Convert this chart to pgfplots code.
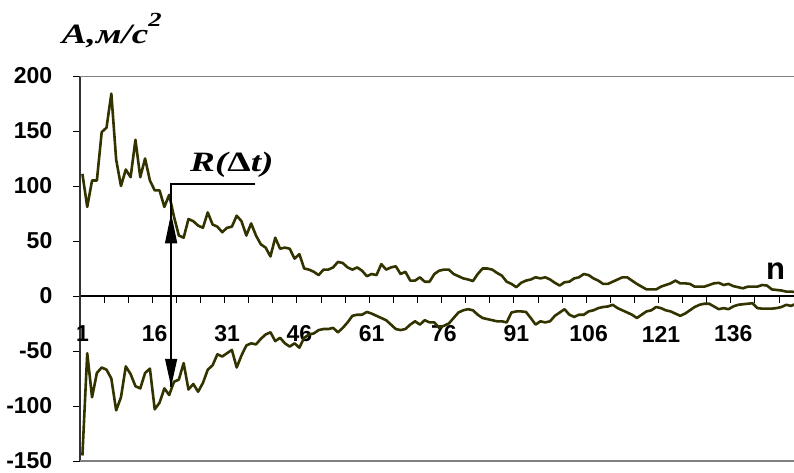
\documentclass[border=0pt]{standalone}
\usepackage{pgfplots}
\pgfplotsset{compat=1.18}
\usepackage{pgfplotstable}
\usepackage{fontspec}
\setmainfont{Liberation Sans}
\newfontfamily\tnr[FakeStretch=1.33]{Liberation Serif}
\usetikzlibrary{arrows.meta}
\definecolor{lineol}{RGB}{51,51,0}
\definecolor{bordergray}{RGB}{128,128,128}
\definecolor{axisgray}{RGB}{50,50,50}

\pgfplotstableread{
n v
1 111
2 81
3 105
4 105
5 149
6 153
7 184
8 124
9 100
10 115
11 108
12 142
13 108
14 125
15 105
16 96
17 96
18 81
19 92
20 72
21 55
22 53
23 70
24 68
25 64
26 62
27 76
28 65
29 63
30 58
31 62
32 63
33 73
34 68
35 55
36 66
37 55
38 47
39 44
40 36
41 53
42 43
43 44
44 43
45 34
46 38
47 25
48 24
49 22
50 19
51 24
52 24
53 26
54 31
55 30
56 26
57 24
58 26
59 23
60 18
61 20
62 19
63 29
64 24
65 26
66 27
67 20
68 22
69 14
70 14
71 17
72 13
73 13
74 20
75 23
76 24
77 24
78 20
79 18
80 16
81 15
82 13.6
83 20
84 25
85 25
86 24
87 21
88 18.5
89 13
90 11
91 8
92 12
93 14
94 15
95 17
96 16
97 17
98 15
99 12
100 9.5
101 12.5
102 13
103 16
104 17
105 20
106 19
107 16
108 14
109 11
110 11
111 13
112 15
113 17
114 17
115 14
116 11
117 8.5
118 6
119 6
120 6
121 8.5
122 10
123 11.5
124 14
125 11.5
126 11.5
127 11
128 8.5
129 8.5
130 8.5
131 10
132 11.5
133 12
134 10
135 11
136 9
137 8
138 7
139 8.5
140 8.5
141 8.5
142 10
143 9.5
144 6
145 5.5
146 5
147 4
148 4
149 3.5
150 3.5
}\upperdata

\pgfplotstableread{
n v
1 -145
2 -52
3 -92
4 -70
5 -65
6 -67
7 -75
8 -104
9 -92
10 -64
11 -71
12 -82
13 -84
14 -70
15 -66
16 -103
17 -97
18 -84
19 -90
20 -78
21 -76
22 -61
23 -85
24 -80
25 -87
26 -79
27 -67
28 -63
29 -53
30 -55
31 -52
32 -49
33 -65
34 -54
35 -45
36 -43
37 -44
38 -39
39 -35
40 -33
41 -41
42 -38
43 -43
44 -46
45 -43
46 -47
47 -38
48 -35
49 -34
50 -31
51 -30
52 -30
53 -29
54 -33
55 -29
56 -24
57 -18
58 -17
59 -17
60 -14.5
61 -16
62 -18
63 -20
64 -22
65 -26
66 -30
67 -31
68 -30
69 -26
70 -23
71 -26
72 -22
73 -24
74 -24
75 -29
76 -27
77 -25
78 -20
79 -15
80 -13
81 -12
82 -13
83 -17
84 -20
85 -21
86 -22
87 -23
88 -23
89 -24
90 -15
91 -14
92 -14
93 -14.5
94 -20
95 -26
96 -23
97 -24
98 -23
99 -18
100 -15
101 -12
102 -17
103 -19
104 -17
105 -17
106 -14
107 -13
108 -11
109 -10
110 -9.5
111 -8
112 -11
113 -13
114 -15
115 -17
116 -20
117 -17
118 -14
119 -13
120 -10
121 -11
122 -13
123 -14
124 -16
125 -18
126 -16
127 -13
128 -10
129 -8
130 -7
131 -7
132 -9.5
133 -12
134 -11
135 -12
136 -9.5
137 -8
138 -7.5
139 -7
140 -6.6
141 -11
142 -11.5
143 -11.5
144 -11.5
145 -11
146 -10
147 -8
148 -9
149 -7
150 -7
}\lowerdata

\begin{document}
\begin{tikzpicture}
\useasboundingbox (-80pt,-11pt) rectangle (714pt,461pt);
\begin{axis}[
  at={(0,0)}, anchor=south west,
  scale only axis,
  width=714pt, height=385pt,
  xmin=0.5, xmax=148.6,
  ymin=-150, ymax=200,
  axis y line=left,
  axis x line=middle,
  axis line style={-, black},
  y axis line style={line width=1.8pt, axisgray},
  x axis line style={line width=1.2pt},
  tick align=outside,
  major tick length=7pt,
  tick style={black, line width=1pt},
  xtick={0.5,5.5,...,148},
  xticklabels={},
  extra x ticks={1,16,31,46,61,76,91,106,121,136},
  extra x tick labels={1,16,31,46,61,76,91,106,121,136},
  extra x tick style={major tick length=0pt,
    tick label style={anchor=center, inner sep=0pt, yshift=-38pt}},
  ytick={-150,-100,-50,0,50,100,150,200},
  yticklabels={{-150},{-100},{-50},{0},{50},{100},{150},{200}},
  ticklabel style={font=\bfseries\fontsize{23}{23}\selectfont},
  yticklabel style={xshift=-20.5pt, anchor=east, inner sep=0pt},
  clip=true,
]
\addplot[color=lineol, line width=2.6pt, line join=round] table[x=n,y=v] {\upperdata};
\addplot[color=lineol, line width=2.6pt, line join=round] table[x=n,y=v] {\lowerdata};
\draw[black, line width=1.4pt] (axis cs:36.9,101.8) -- (axis cs:19.4,101.8)
  -- (axis cs:19.4,-82.5);
\draw[black, line width=1.4pt, -{Triangle[length=28pt,width=12pt]}]
  (axis cs:19.4,-40) -- (axis cs:19.4,-82.5);
\draw[black, line width=1.4pt, -{Triangle[length=30pt,width=12pt]}]
  (axis cs:19.4,40) -- (axis cs:19.4,75.2);
\draw[bordergray, line width=1.6pt] (rel axis cs:0,1) -- (rel axis cs:1,1);
\draw[bordergray, line width=1.6pt] (rel axis cs:0,0) -- (rel axis cs:1,0);
\end{axis}
\node[anchor=base west, inner sep=0pt, font=\tnr\bfseries\itshape\fontsize{28}{28}\selectfont]
  at (-18.3pt,417.7pt) {A,м/с\raisebox{17pt}{\fontsize{20}{20}\selectfont 2}};
\node[anchor=base west, inner sep=0pt, font=\tnr\bfseries\itshape\fontsize{28}{28}\selectfont]
  at (110pt,289.3pt) {R({\upshape Δ}t)};
\node[anchor=center, inner sep=0pt, font=\bfseries\fontsize{31}{31}\selectfont]
  at (695.7pt,190pt) {n};
\end{tikzpicture}
\end{document}
